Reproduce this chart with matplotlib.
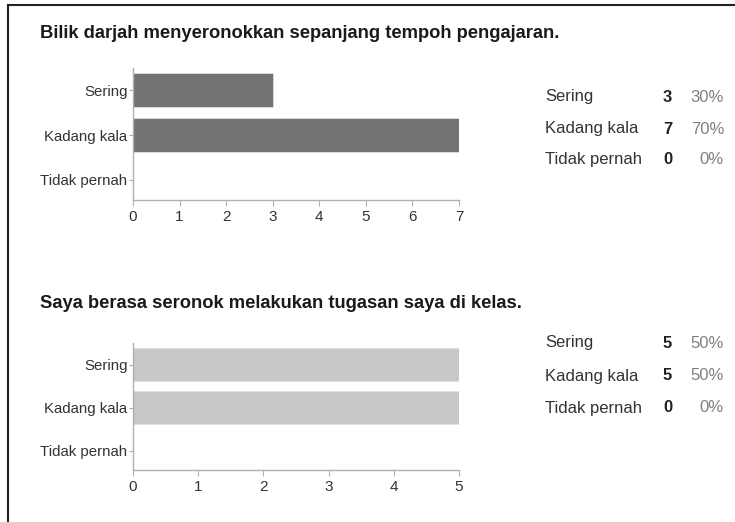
import matplotlib
matplotlib.use("Agg")
import matplotlib.pyplot as plt
from matplotlib.lines import Line2D

categories = ["Sering", "Kadang kala", "Tidak pernah"]
titles = ["Bilik darjah menyeronokkan sepanjang tempoh pengajaran.",
          "Saya berasa seronok melakukan tugasan saya di kelas."]
counts1 = [3, 7, 0]
counts2 = [5, 5, 0]
pcts1 = ["30%", "70%", "0%"]
pcts2 = ["50%", "50%", "0%"]
colors = ["#737373", "#c8c8c8"]

W, H = 735, 522
fig = plt.figure(figsize=(W / 100, H / 100), dpi=100)
FAM = ["Liberation Sans", "DejaVu Sans"]

def fx(px):
    return px / W

def fy(py):
    return 1 - py / H

# border
fig.add_artist(Line2D([fx(8), fx(8)], [0, fy(5)], color="#222222", lw=1.5))
fig.add_artist(Line2D([fx(8), 1], [fy(5), fy(5)], color="#222222", lw=1.5))

charts = [
    dict(counts=counts1, pcts=pcts1, color=colors[0], title=titles[0],
         title_y=33, top=68, bottom=200, rows=[97, 129, 160]),
    dict(counts=counts2, pcts=pcts2, color=colors[1], title=titles[1],
         title_y=304, top=343, bottom=470, rows=[343, 376, 408]),
]

for ch in charts:
    fig.text(fx(40), fy(ch["title_y"]), ch["title"], fontsize=13.2, fontweight="bold",
             family=FAM, color="#1a1a1a", va="center", ha="left")
    left, right = 133, 459
    ax = fig.add_axes([fx(left), fy(ch["bottom"]), fx(right - left),
                       (ch["bottom"] - ch["top"]) / H])
    y = list(range(len(categories)))
    ax.barh(y, ch["counts"], height=0.76, color=ch["color"], edgecolor="#e0e0e0", lw=0.6)
    mx = max(ch["counts"])
    ax.set_xlim(0, mx)
    ax.set_ylim(2.45, -0.5)
    ax.set_yticks(y)
    ax.set_yticklabels(categories)
    ax.set_xticks(range(mx + 1))
    for s in ["top", "right"]:
        ax.spines[s].set_visible(False)
    for s in ["left", "bottom"]:
        ax.spines[s].set_color("#b0b0b0")
        ax.spines[s].set_linewidth(1.0)
    ax.tick_params(axis="y", length=3, color="#b0b0b0", pad=1, labelsize=10.8, labelcolor="#333333")
    ax.tick_params(axis="x", length=4, color="#b0b0b0", pad=3, labelsize=11, labelcolor="#333333")
    for lab in ax.get_xticklabels() + ax.get_yticklabels():
        lab.set_family(FAM)
    ax.patch.set_alpha(0)
    for i, cat in enumerate(categories):
        yy = fy(ch["rows"][i])
        fig.text(fx(545), yy, cat, fontsize=12, family=FAM, color="#333333", va="center", ha="left")
        fig.text(fx(672), yy, str(ch["counts"][i]), fontsize=12, fontweight="bold", family=FAM,
                 color="#222222", va="center", ha="right")
        fig.text(fx(724), yy, ch["pcts"][i], fontsize=12, family=FAM, color="#808080",
                 va="center", ha="right")

fig.savefig("out.png", dpi=100, facecolor="white")
